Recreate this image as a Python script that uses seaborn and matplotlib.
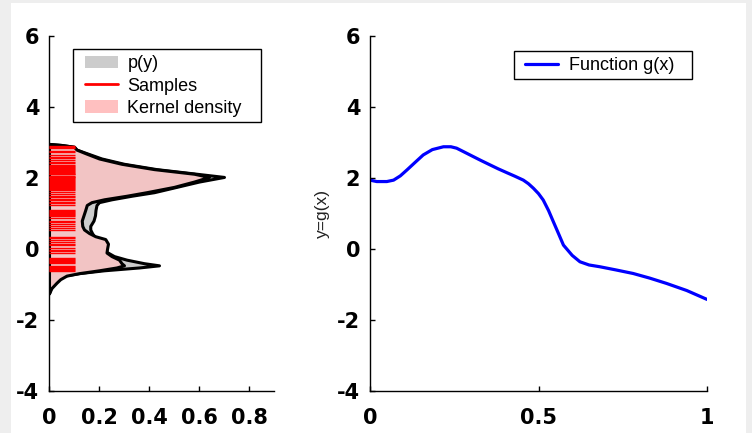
import numpy as np
import matplotlib
matplotlib.use('Agg')
import matplotlib.pyplot as plt
from matplotlib.patches import Patch, Rectangle
from matplotlib.lines import Line2D
import seaborn as sns

# density curves (shared y grid)
y_grid = [-1.25, -1.1, -0.95, -0.85, -0.75, -0.68, -0.6, -0.52, -0.46, -0.40,
          -0.3, -0.2, -0.1, 0.0, 0.15, 0.28, 0.36, 0.45, 0.55, 0.65, 0.8,
          0.95, 1.1, 1.24, 1.32, 1.4, 1.5, 1.6, 1.75, 1.9, 2.03, 2.12, 2.25,
          2.4, 2.55, 2.7, 2.8, 2.88, 2.93, 2.96]
p_y = [0.0, 0.006, 0.018, 0.03, 0.06, 0.12, 0.22, 0.36, 0.44, 0.38,
       0.31, 0.26, 0.235, 0.21, 0.19, 0.185, 0.18, 0.172, 0.165, 0.165, 0.178,
       0.184, 0.186, 0.19, 0.2, 0.25, 0.33, 0.42, 0.51, 0.6, 0.70, 0.59, 0.43,
       0.30, 0.21, 0.15, 0.11, 0.1, 0.05, 0.0]
kde_y = [0.0, 0.01, 0.03, 0.045, 0.07, 0.12, 0.2, 0.27, 0.30, 0.29,
         0.28, 0.25, 0.23, 0.232, 0.236, 0.225, 0.185, 0.16, 0.14, 0.133, 0.131,
         0.138, 0.145, 0.151, 0.17, 0.22, 0.31, 0.39, 0.5, 0.58, 0.64, 0.58, 0.42,
         0.29, 0.2, 0.145, 0.11, 0.1, 0.05, 0.0]

samples = [2.89, 2.87, 2.85, 2.77, 2.72, 2.66, 2.6, 2.55, 2.5, 2.45, 2.41,
           2.37, 2.34, 2.31, 2.28, 2.26, 2.23, 2.2, 2.18, 2.15, 2.12, 2.1,
           2.07, 2.04, 2.02, 1.99, 1.96, 1.94, 1.91, 1.88, 1.86, 1.83, 1.8,
           1.78, 1.75, 1.72, 1.7, 1.67, 1.6, 1.55, 1.5, 1.47, 1.42, 1.38,
           1.33, 1.29, 1.25, 1.1, 1.07, 1.04, 1.01, 0.98, 0.95, 0.92, 0.86,
           0.8, 0.76, 0.7, 0.64, 0.58, 0.54, 0.33, 0.3, 0.24, 0.2, 0.14, 0.1,
           0.04, -0.02, -0.07, -0.12, -0.25, -0.28, -0.31, -0.34, -0.37,
           -0.39, -0.48, -0.51, -0.54, -0.57, -0.6, -0.63]

# function g(x)
gx = [0.0, 0.02, 0.05, 0.07, 0.09, 0.11, 0.135, 0.158, 0.185, 0.218, 0.24,
      0.257, 0.28, 0.307, 0.33, 0.356, 0.38, 0.406, 0.43, 0.455, 0.47, 0.485,
      0.5, 0.514, 0.53, 0.544, 0.56, 0.574, 0.6, 0.623, 0.65, 0.682, 0.73,
      0.781, 0.83, 0.88, 0.94, 1.0]
gy = [1.94, 1.9, 1.9, 1.94, 2.06, 2.23, 2.45, 2.65, 2.8, 2.88, 2.88,
      2.84, 2.73, 2.6, 2.49, 2.37, 2.26, 2.15, 2.05, 1.94, 1.84, 1.71,
      1.56, 1.38, 1.08, 0.77, 0.42, 0.11, -0.18, -0.36, -0.45, -0.5, -0.59,
      -0.69, -0.82, -0.97, -1.17, -1.42]

left_xticks = [0, 0.2, 0.4, 0.6, 0.8]
left_xlabels = ['0', '0.2', '0.4', '0.6', '0.8']
right_xticks = [0, 0.5, 1]
right_xlabels = ['0', '0.5', '1']
yticks = [-4, -2, 0, 2, 4, 6]
ylabels = ['-4', '-2', '0', '2', '4', '6']

sns.set_style('ticks', {'xtick.direction': 'in', 'ytick.direction': 'in'})
plt.rcParams['font.family'] = ['Liberation Sans', 'DejaVu Sans']
plt.rcParams['axes.unicode_minus'] = False
plt.rcParams['text.color'] = 'black'

fig = plt.figure(figsize=(7.52, 4.33), dpi=100, facecolor='#eeeeee')
fig.patches.append(Rectangle((11 / 752, 0), 735 / 752, 430 / 433,
                             transform=fig.transFigure, facecolor='white',
                             edgecolor='none', zorder=-1))

ax1 = fig.add_axes([49 / 752, 42 / 433, 225 / 752, 355 / 433])
ax2 = fig.add_axes([370 / 752, 42 / 433, 337 / 752, 355 / 433])

gray = '#cccccc'
pink = '#f2c4c4'

ax1.fill_betweenx(y_grid, 0, p_y, facecolor=gray, edgecolor='black', lw=2.2, zorder=2)
ax1.fill_betweenx(y_grid, 0, kde_y, facecolor=pink, edgecolor='black', lw=2.2, zorder=3)
sns.rugplot(y=samples, height=0.117, color='red', lw=1.6, ax=ax1, zorder=4)

ax1.set_xlim(0, 0.9)
ax1.set_ylim(-4, 6)
ax1.set_xticks(left_xticks, left_xlabels)
ax1.set_yticks(yticks, ylabels)

# legend frames drawn by hand so the padding matches the original
ax1.add_patch(Rectangle((0.107, 0.758), 0.835, 0.205, transform=ax1.transAxes,
                        facecolor='white', edgecolor='black', lw=1.0,
                        zorder=6, clip_on=False))
handles = [Patch(facecolor=gray, edgecolor='none'),
           Line2D([], [], color='red', lw=2),
           Patch(facecolor='#ffc0c0', edgecolor='none')]
leg1 = ax1.legend(handles, ['p(y)', 'Samples', 'Kernel density'],
                  loc='upper left', bbox_to_anchor=(0.16, 0.946),
                  borderaxespad=0, borderpad=0, fontsize=13, frameon=False,
                  handlelength=1.8, handletextpad=0.55, labelspacing=0.3)
leg1.set_zorder(7)

sns.lineplot(x=gx, y=gy, color='blue', lw=2.3, ax=ax2, label='Function g(x)')
ax2.set_xlim(0, 1)
ax2.set_ylim(-4, 6)
ax2.set_xticks(right_xticks, right_xlabels)
ax2.set_yticks(yticks, ylabels)
ax2.set_xlabel('')
ax2.set_ylabel('y=g(x)', fontsize=12.5, labelpad=5, color='#222222')
ax2.add_patch(Rectangle((0.427, 0.879), 0.528, 0.079, transform=ax2.transAxes,
                        facecolor='white', edgecolor='black', lw=1.0,
                        zorder=6, clip_on=False))
leg2 = ax2.legend(loc='upper left', bbox_to_anchor=(0.46, 0.941),
                  borderaxespad=0, borderpad=0, fontsize=13, frameon=False,
                  handlelength=1.8, handletextpad=0.65)
leg2.set_zorder(7)

for ax in (ax1, ax2):
    sns.despine(ax=ax)
    ax.set_facecolor('white')
    for s in ('left', 'bottom'):
        ax.spines[s].set_color('black')
        ax.spines[s].set_linewidth(1.0)
    ax.tick_params(axis='both', direction='in', length=3.5, width=1,
                   labelsize=15, color='black', labelcolor='black')
    ax.tick_params(axis='x', pad=12)
    ax.tick_params(axis='y', pad=7)
    for lab in ax.get_xticklabels() + ax.get_yticklabels():
        lab.set_fontfamily('DejaVu Sans')
        lab.set_fontweight('bold')

fig.savefig('out.png', dpi=100, facecolor=fig.get_facecolor())
